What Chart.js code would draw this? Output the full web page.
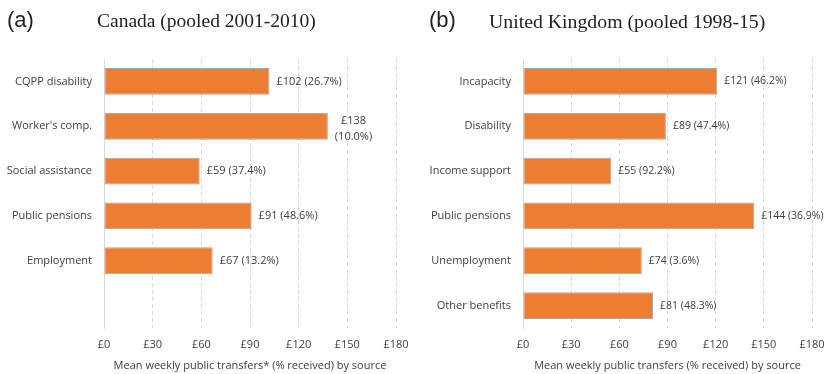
<!DOCTYPE html>
<html>
<head>
<meta charset="utf-8">
<script src="https://cdn.jsdelivr.net/npm/chart.js@4"></script>
<style>
  body { margin: 0; background: #fff; }
  #wrap { position: relative; width: 825px; height: 374px; overflow: hidden; }
  canvas { position: absolute; top: 0; }
  .tag { position: absolute; top: 7px; font: 22px "Liberation Sans", Arial, sans-serif; color: #222; }
  .ttl { position: absolute; top: 10px; font: 19.5px "Liberation Serif", "Times New Roman", serif; color: #222; }
</style>
</head>
<body>
<div id="wrap">
  <canvas id="chartA" width="412" height="374" style="left:0"></canvas>
  <canvas id="chartB" width="413" height="374" style="left:412px"></canvas>
  <div class="tag" style="left:7px">(a)</div>
  <div class="ttl" style="left:97px">Canada (pooled 2001-2010)</div>
  <div class="tag" style="left:429px">(b)</div>
  <div class="ttl" style="left:489px; font-size:19.8px">United Kingdom (pooled 1998-15)</div>
</div>
<script>
// Canada: mean weekly amount and share receiving, by source
const caSources = ["CQPP disability", "Worker's comp.", "Social assistance", "Public pensions", "Employment", ""];
const caMeans = [102, 138, 59, 91, 67, null];
const caShares = [26.7, 10.0, 37.4, 48.6, 13.2, null];

// United Kingdom
const ukSources = ["Incapacity", "Disability", "Income support", "Public pensions", "Unemployment", "Other benefits"];
const ukMeans = [121, 89, 55, 144, 74, 81];
const ukShares = [46.2, 47.4, 92.2, 36.9, 3.6, 48.3];

const xTicks = [0, 30, 60, 90, 120, 150, 180];

const FONT = "'Open Sans', 'Noto Sans', sans-serif";
const TEXT = "#404040";
const GRID = "#d9d9d9";

// writes "£value (share%)" after each bar; indexes in `wrap` go on two lines
const valueLabels = {
  id: "valueLabels",
  afterDatasetsDraw(chart, args, opts) {
    const ctx = chart.ctx;
    const meta = chart.getDatasetMeta(0);
    const ds = chart.data.datasets[0];
    ctx.save();
    ctx.font = opts.size + "px " + FONT;
    ctx.fillStyle = TEXT;
    ctx.textBaseline = "middle";
    meta.data.forEach((bar, i) => {
      const v = ds.data[i];
      if (v == null) return;
      const first = "£" + v;
      const second = "(" + opts.shares[i].toFixed(1) + "%)";
      const x = bar.x + 7;
      if (opts.wrap.includes(i)) {
        const w = Math.max(ctx.measureText(first).width, ctx.measureText(second).width);
        ctx.textAlign = "center";
        ctx.fillText(first, x + w / 2, bar.y - 5);
        ctx.fillText(second, x + w / 2, bar.y + 11);
      } else {
        ctx.textAlign = "left";
        ctx.fillText(first + " " + second, x, bar.y);
      }
    });
    ctx.restore();
  }
};

function makeChart(id, labels, values, shares, axisTitle, yWidth, padRight, wrap, labelSize) {
  return new Chart(document.getElementById(id), {
    type: "bar",
    data: {
      labels: labels,
      datasets: [{
        data: values,
        backgroundColor: "#ed7d31",
        borderColor: "#a6a6a6",
        borderWidth: 1,
        borderSkipped: false,
        barPercentage: 0.6,
        categoryPercentage: 1
      }]
    },
    options: {
      indexAxis: "y",
      responsive: false,
      animation: false,
      layout: { padding: { top: 59, right: padRight, left: 0, bottom: 0 } },
      plugins: {
        legend: { display: false },
        tooltip: { enabled: false },
        valueLabels: { shares: shares, wrap: wrap, size: labelSize }
      },
      scales: {
        x: {
          min: 0,
          max: 180,
          afterBuildTicks: (s) => { s.ticks = xTicks.map(v => ({ value: v })); },
          afterFit: (s) => {
            s.height = 46;
            s.paddingLeft = 0;
            s.paddingRight = 0;
          },
          ticks: {
            padding: 10,
            color: TEXT,
            font: { family: FONT, size: 11 },
            callback: (v) => "£" + v
          },
          grid: {
            drawTicks: false,
            color: (c) => c.index === 0 ? "rgba(0,0,0,0)" : GRID
          },
          border: { display: false, dash: [4, 3] },
          title: {
            display: true,
            text: axisTitle,
            color: TEXT,
            font: { family: FONT, size: 11 },
            padding: { top: 0, bottom: 2 }
          }
        },
        y: {
          afterFit: (s) => { s.width = yWidth; },
          grid: { display: false, drawTicks: false, tickLength: 0 },
          border: { display: true, color: GRID, width: 1 },
          ticks: {
            padding: 12,
            color: TEXT,
            font: { family: FONT, size: 11 }
          }
        }
      }
    },
    plugins: [valueLabels]
  });
}

makeChart("chartA", caSources, caMeans, caShares,
  "Mean weekly public transfers* (% received) by source", 104, 16, [1], 11);
makeChart("chartB", ukSources, ukMeans, ukShares,
  "Mean weekly public transfers (% received) by source", 111, 13, [], 10.5);
</script>
</body>
</html>
